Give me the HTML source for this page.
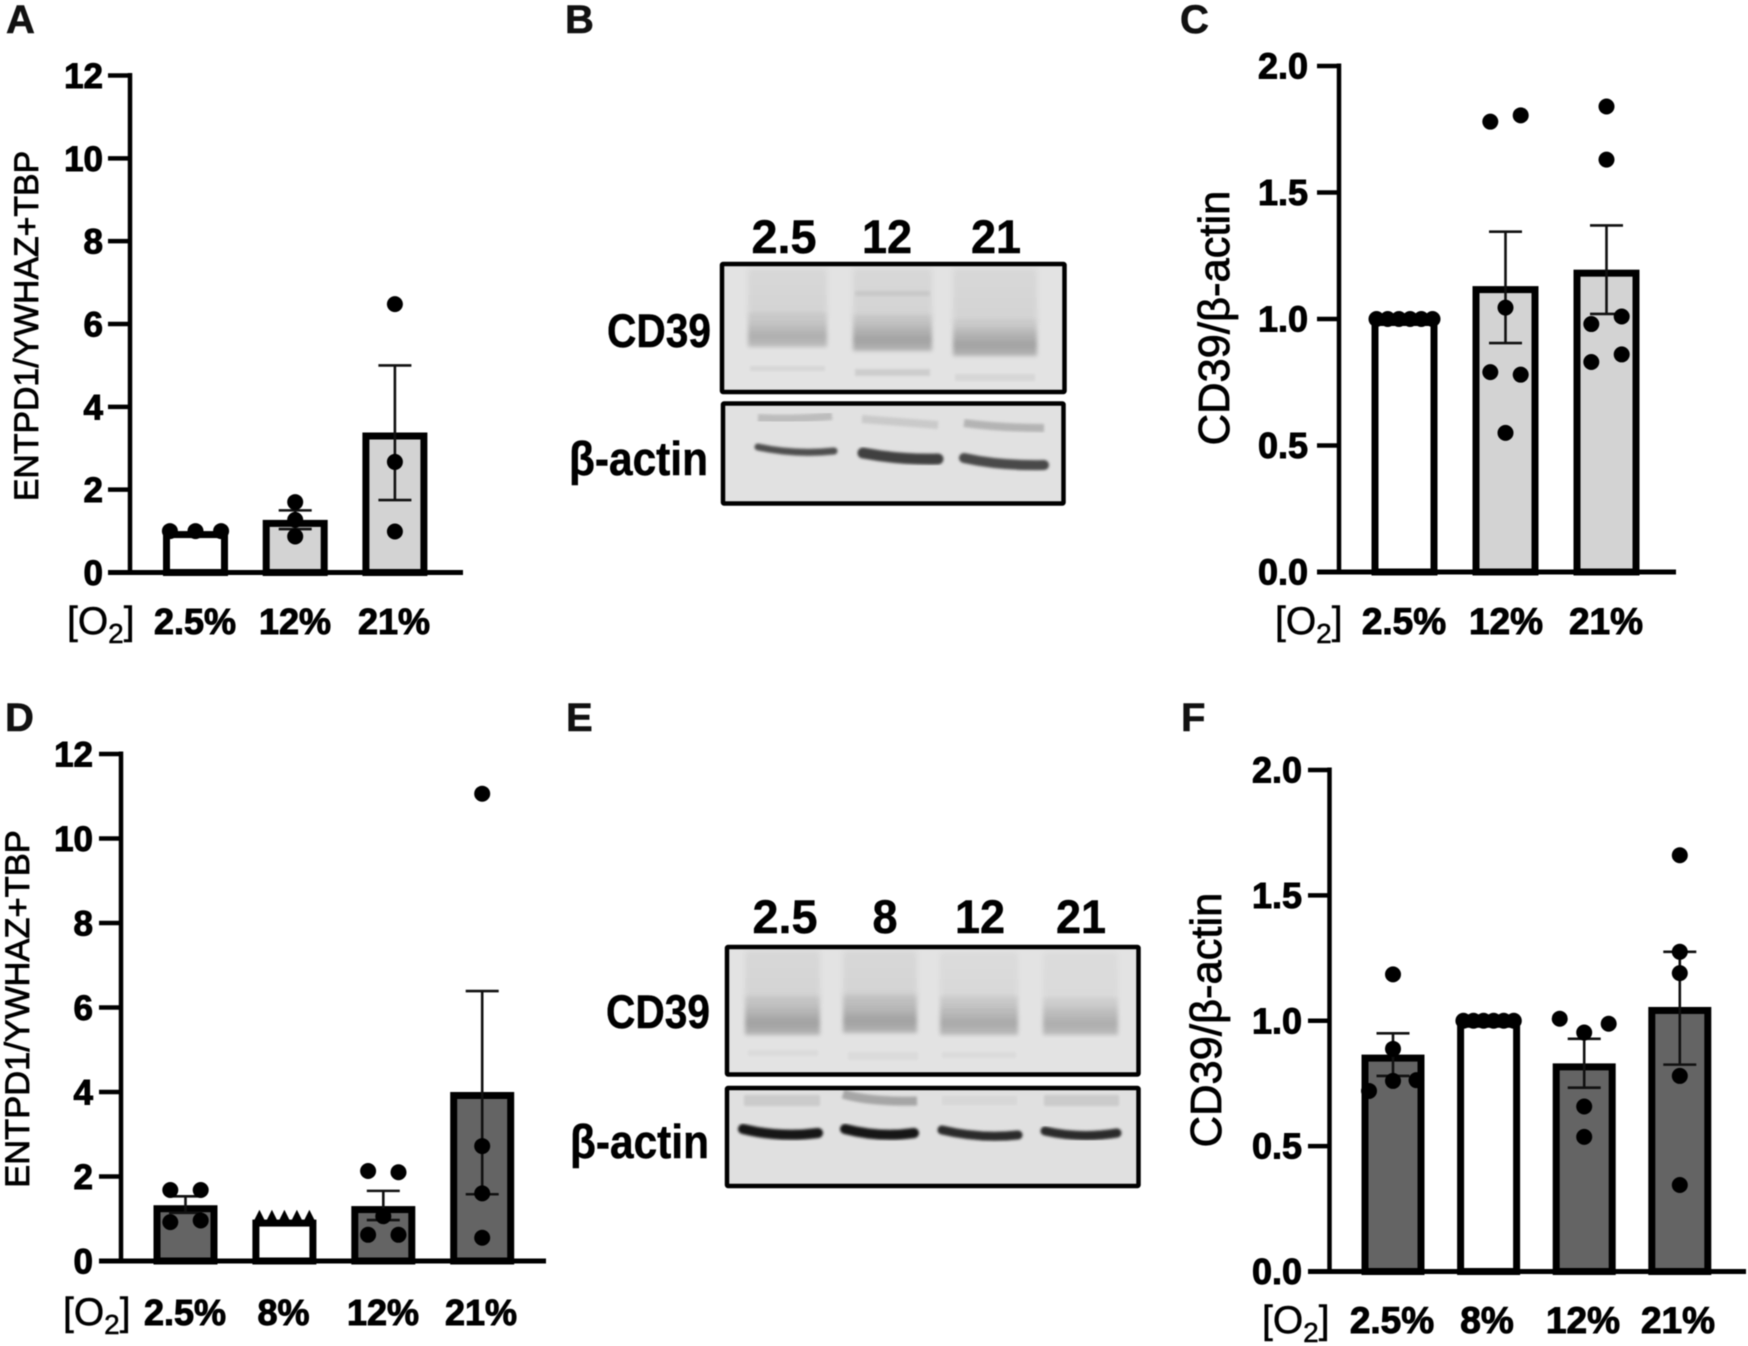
<!DOCTYPE html>
<html lang="en">
<head>
<meta charset="utf-8">
<title>CD39 expression under oxygen tension</title>
<style>
  html, body { margin: 0; padding: 0; background: #fff; }
  #figure { display: block; width: 1748px; height: 1346px; filter: blur(0.55px); }
  text { font-family: "Liberation Sans", "DejaVu Sans", sans-serif; fill: #000; }
  .tick { font-weight: 700; stroke: #000; stroke-width: 1px; }
  .panel-letter { font-weight: 700; font-size: 40px; fill: #111; stroke: #111; stroke-width: 0.6px; }
  .blot-label { font-weight: 700; font-size: 47px; stroke: #000; stroke-width: 0.5px; }
</style>
</head>
<body>
<svg id="figure" xmlns="http://www.w3.org/2000/svg" width="1748" height="1346" viewBox="0 0 1748 1346">
  <defs>
    <filter id="b1" x="-10%" y="-100%" width="120%" height="300%"><feGaussianBlur stdDeviation="1.4"/></filter>
    <filter id="b2" x="-10%" y="-100%" width="120%" height="300%"><feGaussianBlur stdDeviation="2.2"/></filter>
    <filter id="b3" x="-10%" y="-40%" width="120%" height="180%"><feGaussianBlur stdDeviation="3"/></filter>
    <linearGradient id="gBand" x1="0" y1="0" x2="0" y2="1">
      <stop offset="0" stop-color="#000" stop-opacity="0.03"/>
      <stop offset="0.3" stop-color="#000" stop-opacity="0.17"/>
      <stop offset="0.7" stop-color="#000" stop-opacity="0.29"/>
      <stop offset="1" stop-color="#000" stop-opacity="0.2"/>
    </linearGradient>
    <linearGradient id="gHaze" x1="0" y1="0" x2="0" y2="1">
      <stop offset="0" stop-color="#000" stop-opacity="0.05"/>
      <stop offset="1" stop-color="#000" stop-opacity="0.07"/>
    </linearGradient>
  </defs>

  <rect x="0" y="0" width="1748" height="1346" fill="#ffffff"/>

  <text class="panel-letter" x="6" y="33">A</text>
  <text class="panel-letter" x="565" y="33">B</text>
  <text class="panel-letter" x="1180" y="33">C</text>
  <text class="panel-letter" x="5" y="731">D</text>
  <text class="panel-letter" x="566" y="731">E</text>
  <text class="panel-letter" x="1181" y="731">F</text>

  <!-- Panel B blot -->
  <g>
    <text class="blot-label" x="784" y="253" text-anchor="middle" textLength="65" lengthAdjust="spacingAndGlyphs">2.5</text>
    <text class="blot-label" x="887" y="253" text-anchor="middle" textLength="50" lengthAdjust="spacingAndGlyphs">12</text>
    <text class="blot-label" x="996" y="253" text-anchor="middle" textLength="50" lengthAdjust="spacingAndGlyphs">21</text>
    <text class="blot-label" x="607" y="347" textLength="104" lengthAdjust="spacingAndGlyphs">CD39</text>
    <text class="blot-label" x="569" y="475" textLength="139" lengthAdjust="spacingAndGlyphs">β-actin</text>

    <rect x="722" y="264" width="342.5" height="128" fill="#e3e3e3"/>
    <g>
      <rect x="748" y="268" width="79" height="50" fill="url(#gHaze)" filter="url(#b3)"/>
      <rect x="853" y="268" width="79" height="52" fill="url(#gHaze)" filter="url(#b3)"/>
      <rect x="953" y="268" width="84" height="55" fill="url(#gHaze)" filter="url(#b3)"/>
      <rect x="855" y="291" width="75" height="5" fill="#000" opacity="0.06" filter="url(#b1)"/>
      <rect x="748" y="312" width="79" height="35" fill="url(#gBand)" opacity="0.8" filter="url(#b2)"/>
      <rect x="853" y="314" width="79" height="37" fill="url(#gBand)" filter="url(#b2)"/>
      <rect x="953" y="319" width="84" height="37" fill="url(#gBand)" filter="url(#b2)"/>
      <rect x="750" y="366" width="75" height="5" fill="#000" opacity="0.05" filter="url(#b1)"/>
      <rect x="855" y="369" width="75" height="7" fill="#000" opacity="0.09" filter="url(#b1)"/>
      <rect x="955" y="374" width="80" height="7" fill="#000" opacity="0.05" filter="url(#b1)"/>
    </g>
    <rect x="722" y="264" width="342.5" height="128" fill="none" stroke="#000" stroke-width="4.5" rx="1"/>

    <rect x="723" y="403.5" width="340.5" height="100" fill="#e1e1e1"/>
    <g>
      <path d="M758 418 Q795 420 832 416" fill="none" stroke="#000" stroke-opacity="0.16" stroke-width="8" filter="url(#b1)"/>
      <path d="M862 419 Q900 422 938 425" fill="none" stroke="#000" stroke-opacity="0.1" stroke-width="8" filter="url(#b1)"/>
      <path d="M964 423 Q1000 428 1044 428" fill="none" stroke="#000" stroke-opacity="0.2" stroke-width="8" filter="url(#b1)"/>
      <path d="M758 447 Q795 455 834 451" fill="none" stroke="#505050" stroke-width="7" stroke-linecap="round" filter="url(#b1)"/>
      <path d="M863 453 Q900 460 938 459" fill="none" stroke="#3f3f3f" stroke-width="11" stroke-linecap="round" filter="url(#b1)"/>
      <path d="M964 458 Q1000 466 1044 465" fill="none" stroke="#484848" stroke-width="10" stroke-linecap="round" filter="url(#b1)"/>
    </g>
    <rect x="723" y="403.5" width="340.5" height="100" fill="none" stroke="#000" stroke-width="4.5" rx="1"/>
  </g>

  <!-- Panel E blot -->
  <g>
    <text class="blot-label" x="785" y="933" text-anchor="middle" textLength="65" lengthAdjust="spacingAndGlyphs">2.5</text>
    <text class="blot-label" x="885" y="933" text-anchor="middle" textLength="25" lengthAdjust="spacingAndGlyphs">8</text>
    <text class="blot-label" x="980" y="933" text-anchor="middle" textLength="50" lengthAdjust="spacingAndGlyphs">12</text>
    <text class="blot-label" x="1081" y="933" text-anchor="middle" textLength="50" lengthAdjust="spacingAndGlyphs">21</text>
    <text class="blot-label" x="606" y="1028" textLength="104" lengthAdjust="spacingAndGlyphs">CD39</text>
    <text class="blot-label" x="570" y="1158" textLength="139" lengthAdjust="spacingAndGlyphs">β-actin</text>

    <rect x="727" y="947" width="411.5" height="127.5" fill="#e3e3e3"/>
    <g>
      <rect x="745" y="950" width="75" height="52" fill="url(#gHaze)" filter="url(#b3)"/>
      <rect x="843" y="950" width="74" height="52" fill="url(#gHaze)" filter="url(#b3)"/>
      <rect x="940" y="952" width="78" height="50" fill="url(#gHaze)" opacity="0.7" filter="url(#b3)"/>
      <rect x="1043" y="952" width="75" height="50" fill="url(#gHaze)" opacity="0.6" filter="url(#b3)"/>
      <rect x="745" y="995" width="75" height="40" fill="url(#gBand)" filter="url(#b2)"/>
      <rect x="843" y="993" width="74" height="40" fill="url(#gBand)" filter="url(#b2)"/>
      <rect x="940" y="995" width="78" height="40" fill="url(#gBand)" opacity="0.88" filter="url(#b2)"/>
      <rect x="1043" y="997" width="75" height="38" fill="url(#gBand)" opacity="0.82" filter="url(#b2)"/>
      <rect x="748" y="1050" width="70" height="6" fill="#000" opacity="0.03" filter="url(#b1)"/>
      <rect x="848" y="1052" width="70" height="8" fill="#000" opacity="0.03" filter="url(#b1)"/>
      <rect x="942" y="1052" width="74" height="6" fill="#000" opacity="0.03" filter="url(#b1)"/>
    </g>
    <rect x="727" y="947" width="411.5" height="127.5" fill="none" stroke="#000" stroke-width="4.5" rx="1"/>

    <rect x="727" y="1088" width="411.5" height="98" fill="#e0e0e0"/>
    <g>
      <rect x="744" y="1095" width="76" height="11" fill="#000" opacity="0.09" filter="url(#b1)"/>
      <path d="M843 1094 Q870 1102 917 1101" fill="none" stroke="#000" stroke-opacity="0.26" stroke-width="9" filter="url(#b1)"/>
      <rect x="942" y="1096" width="75" height="9" fill="#000" opacity="0.035" filter="url(#b1)"/>
      <rect x="1044" y="1095" width="75" height="11" fill="#000" opacity="0.09" filter="url(#b1)"/>
      <path d="M743 1129 Q780 1138 818 1133" fill="none" stroke="#161616" stroke-width="10" stroke-linecap="round" filter="url(#b1)"/>
      <path d="M845 1129 Q880 1138 914 1133" fill="none" stroke="#161616" stroke-width="10" stroke-linecap="round" filter="url(#b1)"/>
      <path d="M942 1130 Q980 1139 1018 1135" fill="none" stroke="#2b2b2b" stroke-width="9" stroke-linecap="round" filter="url(#b1)"/>
      <path d="M1045 1131 Q1080 1139 1117 1133" fill="none" stroke="#2b2b2b" stroke-width="9" stroke-linecap="round" filter="url(#b1)"/>
    </g>
    <rect x="727" y="1088" width="411.5" height="98" fill="none" stroke="#000" stroke-width="4.5" rx="1"/>
  </g>

  <g id="charts"></g>
</svg>

<script>
/* Panel A */
const panelACategories = ['2.5%', '12%', '21%'];
const panelAMeans = [1.0, 1.27, 3.38];
const panelAErrorHigh = [1.0, 1.5, 5.0];
const panelAErrorLow = [1.0, 1.05, 1.75];
const panelAPoints = [[1.0, 1.0, 1.0], [1.7, 1.27, 0.87], [6.48, 2.67, 0.99]];
const panelASlots = [[-1.6, 0, 1.6], [0, 0, 0], [0, 0, 0]];
const panelATicks = ['0', '2', '4', '6', '8', '10', '12'];

/* Panel C */
const panelCCategories = ['2.5%', '12%', '21%'];
const panelCMeans = [1.0, 1.13, 1.195];
const panelCErrorHigh = [1.0, 1.345, 1.37];
const panelCErrorLow = [1.0, 0.905, 1.02];
const panelCPoints = [
  [1.0, 1.0, 1.0, 1.0, 1.0, 1.0],
  [1.78, 1.805, 1.045, 0.79, 0.78, 0.55],
  [1.84, 1.63, 1.01, 0.98, 0.86, 0.83]
];
const panelCSlots = [
  [-1.75, -1.05, -0.35, 0.35, 1.05, 1.75],
  [-0.95, 0.95, 0, -0.95, 0.95, 0],
  [0, 0, 0.95, -0.95, 0.95, -0.95]
];
const panelCTicks = ['0.0', '0.5', '1.0', '1.5', '2.0'];

/* Panel D */
const panelDCategories = ['2.5%', '8%', '12%', '21%'];
const panelDMeans = [1.32, 0.98, 1.3, 4.0];
const panelDErrorHigh = [1.53, 1.0, 1.66, 6.39];
const panelDErrorLow = [1.14, 1.0, 0.97, 1.58];
const panelDPoints = [
  [1.68, 1.68, 0.92, 0.96],
  [1.0, 1.0, 1.0, 1.0, 1.0],
  [2.13, 2.1, 1.06, 0.62, 0.62],
  [11.06, 2.72, 1.6, 0.55]
];
const panelDSlots = [
  [-0.95, 0.95, -0.95, 0.95],
  [-1.56, -0.78, 0, 0.78, 1.56],
  [-0.95, 0.95, 0, -0.95, 0.95],
  [0, 0, 0, 0]
];
const panelDTicks = ['0', '2', '4', '6', '8', '10', '12'];

/* Panel F */
const panelFCategories = ['2.5%', '8%', '12%', '21%'];
const panelFMeans = [0.865, 1.0, 0.83, 1.055];
const panelFErrorHigh = [0.95, 1.0, 0.928, 1.275];
const panelFErrorLow = [0.78, 1.0, 0.733, 0.825];
const panelFPoints = [
  [1.185, 0.888, 0.76, 0.72, 0.763],
  [1.0, 1.0, 1.0, 1.0, 1.0, 1.0],
  [1.008, 0.988, 0.953, 0.658, 0.537],
  [1.66, 1.275, 1.19, 0.78, 0.345]
];
const panelFSlots = [
  [0, 0, 0, -1.5, 1.47],
  [-1.575, -0.945, -0.315, 0.315, 0.945, 1.575],
  [-1.53, 1.53, 0, 0, 0],
  [0, 0, 0, 0, 0]
];
const panelFTicks = ['0.0', '0.5', '1.0', '1.5', '2.0'];

const SVG_NS = 'http://www.w3.org/2000/svg';
const chartRoot = document.getElementById('charts');
const DOT_UNIT = 16;

function make(parent, tag, attrs) {
  const el = document.createElementNS(SVG_NS, tag);
  for (const key in attrs) el.setAttribute(key, attrs[key]);
  parent.appendChild(el);
  return el;
}

function drawPanel(p) {
  const group = make(chartRoot, 'g', {});
  
  

  const maxValue = parseFloat(p.ticks[p.ticks.length - 1]);
  const yScale = v => p.base - (v / maxValue) * (p.base - p.top);
  const xScale = i => p.firstCenter + i * p.step;

  p.means.forEach((mean, i) => {
    const cx = xScale(i);
    const topY = yScale(mean);
    const sw = 7;
    const bar = make(group, 'rect', {
      x: cx - p.barWidth / 2 + sw / 2,
      y: topY + sw / 2,
      width: p.barWidth - sw,
      height: Math.max(0, p.base - topY - sw / 2),
      fill: p.fills[i],
      stroke: '#000',
      'stroke-width': sw
    });
    
    
  });

  p.means.forEach((mean, i) => {
    const cx = xScale(i);
    const hi = yScale(p.errorHigh[i]);
    const lo = yScale(p.errorLow[i]);
    if (Math.abs(hi - lo) < 0.5) return;
    const errorGroup = make(group, 'g', { stroke: '#111', 'stroke-width': 2.6, fill: 'none' });
    
    
    make(errorGroup, 'line', { x1: cx, x2: cx, y1: hi, y2: lo });
    make(errorGroup, 'line', { x1: cx - 16.5, x2: cx + 16.5, y1: hi, y2: hi });
    make(errorGroup, 'line', { x1: cx - 16.5, x2: cx + 16.5, y1: lo, y2: lo });
  });

  p.points.forEach((series, i) => {
    series.forEach((value, j) => {
      const px = xScale(i) + p.slots[i][j] * DOT_UNIT;
      const py = yScale(value);
      let dot;
      if (p.triangleCategory === i) {
        dot = make(group, 'path', {
          d: 'M' + (px - 7) + ' ' + (py + 5) + 'L' + px + ' ' + (py - 9) + 'L' + (px + 7) + ' ' + (py + 5) + 'Z',
          fill: '#000'
        });
      } else {
        dot = make(group, 'circle', { cx: px, cy: py, r: 8, fill: '#000' });
      }
      
      
    });
  });

  const yAxis = make(group, 'line', { x1: p.axisX, x2: p.axisX, y1: p.top - 2.5, y2: p.base, stroke: '#000', 'stroke-width': 4.5 });
  
  

  const xAxis = make(group, 'line', { x1: p.tickLeft, x2: p.axisEnd, y1: p.base, y2: p.base, stroke: '#000', 'stroke-width': 5 });
  
  

  p.ticks.forEach(label => {
    const value = parseFloat(label);
    const tickMark = make(group, 'line', { x1: p.tickLeft, x2: p.axisX, y1: yScale(value), y2: yScale(value), stroke: '#000', 'stroke-width': 4.5 });
    
    
    const tickText = make(group, 'text', { class: 'tick', x: p.tickLabelRight, y: yScale(value) + 12.5, 'text-anchor': 'end', 'font-size': p.tickFont });
    tickText.textContent = label;
    
    
  });

  p.categories.forEach((label, i) => {
    const catText = make(group, 'text', { class: 'tick', x: p.labelCenters[i], y: p.labelY, 'text-anchor': 'middle', 'font-size': p.catFont });
    catText.textContent = label;
    
    
  });

  const o2 = make(group, 'text', { x: p.o2X, y: p.labelY, 'font-size': 39, stroke: '#000', 'stroke-width': 0.5 });
  
  
  o2.appendChild(document.createTextNode('[O'));
  const sub = make(o2, 'tspan', { 'font-size': 28, dy: 9 });
  sub.textContent = '2';
  const close = make(o2, 'tspan', { dy: -9 });
  close.textContent = ']';

  const yTitle = make(group, 'text', {
    x: 0, y: 0,
    transform: 'translate(' + p.titleX + ',' + p.titleY + ') rotate(-90)',
    'text-anchor': 'middle',
    'font-size': p.titleFont,
    stroke: '#000',
    'stroke-width': 0.8
  });
  yTitle.textContent = p.title;
  
  
}

const LIGHT = '#d3d3d3';
const DARK = '#646464';
const OPEN = '#ffffff';

drawPanel({
  id: 'a', categories: panelACategories, means: panelAMeans, errorHigh: panelAErrorHigh, errorLow: panelAErrorLow,
  points: panelAPoints, slots: panelASlots, ticks: panelATicks, fills: [OPEN, LIGHT, LIGHT],
  axisX: 130, top: 75.5, base: 572.5, tickLeft: 108, axisEnd: 463, tickLabelRight: 103, tickFont: 35,
  firstCenter: 195.5, step: 99.7, barWidth: 65, labelCenters: [195, 295, 394], labelY: 634, catFont: 36,
  o2X: 67, title: 'ENTPD1/YWHAZ+TBP', titleX: 38, titleY: 326, titleFont: 33.8
});

drawPanel({
  id: 'c', categories: panelCCategories, means: panelCMeans, errorHigh: panelCErrorHigh, errorLow: panelCErrorLow,
  points: panelCPoints, slots: panelCSlots, ticks: panelCTicks, fills: [OPEN, LIGHT, LIGHT],
  axisX: 1339, top: 66, base: 572, tickLeft: 1317, axisEnd: 1676, tickLabelRight: 1308, tickFont: 36,
  firstCenter: 1404.5, step: 101, barWidth: 66, labelCenters: [1404, 1506, 1606], labelY: 634, catFont: 37,
  o2X: 1275, title: 'CD39/β-actin', titleX: 1229, titleY: 318, titleFont: 43.5
});

drawPanel({
  id: 'd', categories: panelDCategories, means: panelDMeans, errorHigh: panelDErrorHigh, errorLow: panelDErrorLow,
  points: panelDPoints, slots: panelDSlots, ticks: panelDTicks, fills: [DARK, OPEN, DARK, DARK],
  triangleCategory: 1,
  axisX: 121, top: 754, base: 1261, tickLeft: 99, axisEnd: 546, tickLabelRight: 93, tickFont: 35,
  firstCenter: 185.5, step: 98.9, barWidth: 64, labelCenters: [185, 283.5, 383, 481], labelY: 1325, catFont: 36,
  o2X: 63, title: 'ENTPD1/YWHAZ+TBP', titleX: 29, titleY: 1009, titleFont: 34.5
});

drawPanel({
  id: 'f', categories: panelFCategories, means: panelFMeans, errorHigh: panelFErrorHigh, errorLow: panelFErrorLow,
  points: panelFPoints, slots: panelFSlots, ticks: panelFTicks, fills: [DARK, OPEN, DARK, DARK],
  axisX: 1329.5, top: 770, base: 1271.5, tickLeft: 1308, axisEnd: 1746, tickLabelRight: 1302, tickFont: 36,
  firstCenter: 1393, step: 95.6, barWidth: 63, labelCenters: [1392, 1487, 1583, 1678], labelY: 1333, catFont: 37,
  o2X: 1262, title: 'CD39/β-actin', titleX: 1221, titleY: 1020, titleFont: 43.5
});
</script>
</body>
</html>
